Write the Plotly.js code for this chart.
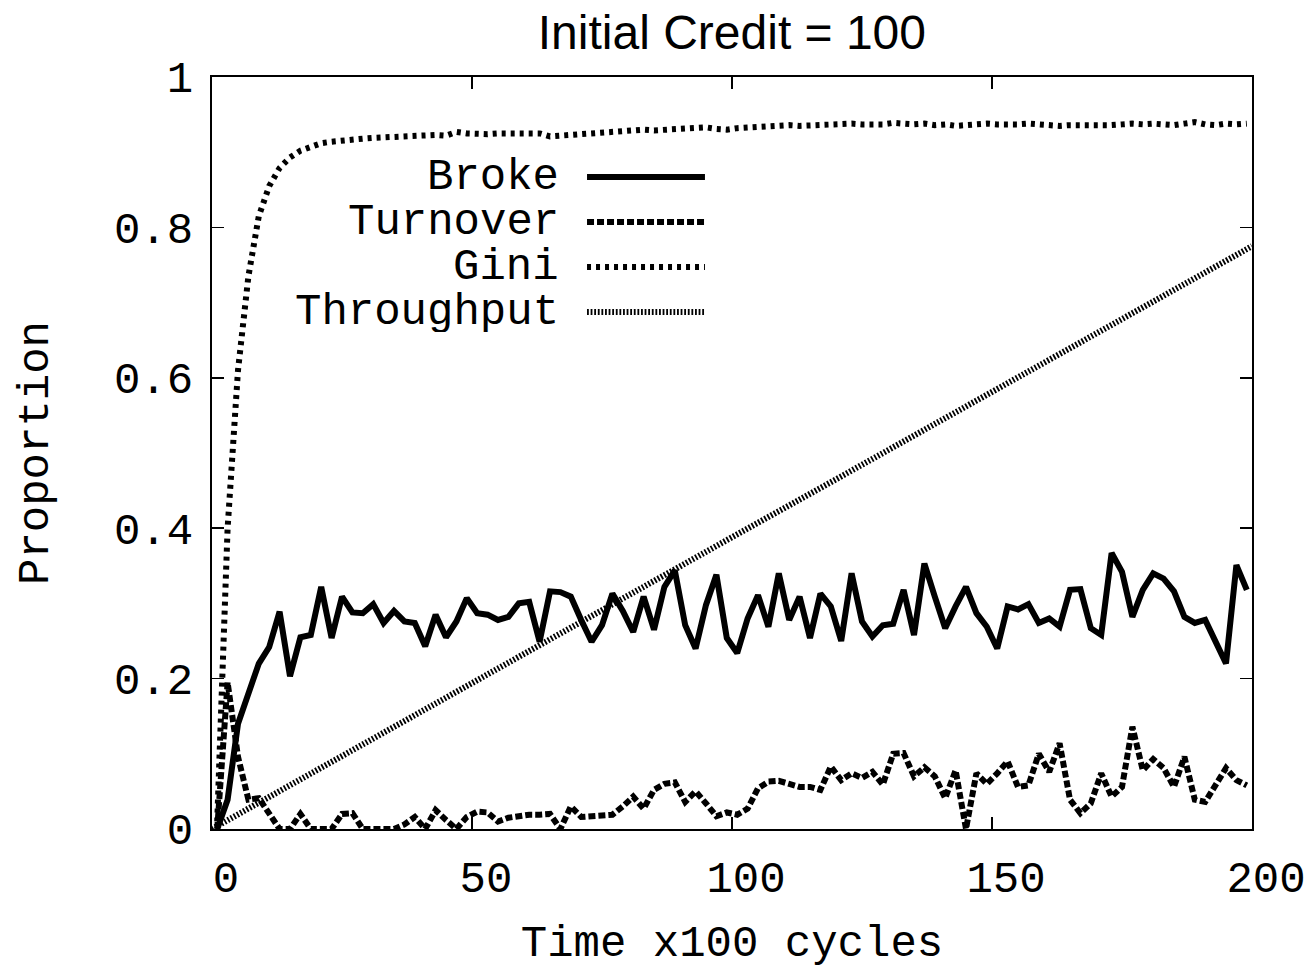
<!DOCTYPE html>
<html>
<head>
<meta charset="utf-8">
<script src="https://cdn.plot.ly/plotly-3.0.1.min.js"></script>
<style>
  html, body { margin: 0; padding: 0; background: #fff; }
  #chart { width: 1310px; height: 969px; }
</style>
</head>
<body>
<div id="chart"></div>
<script>
// Time (x100 cycles) of each sample
const time = [1,3,5,7,9,11,13,15,17,19,21,23,25,27,29,31,33,35,37,39,
  41,43,45,47,49,51,53,55,57,59,61,63,65,67,69,71,73,75,77,79,
  81,83,85,87,89,91,93,95,97,99,101,103,105,107,109,111,113,115,117,119,
  121,123,125,127,129,131,133,135,137,139,141,143,145,147,149,151,153,155,157,159,
  161,163,165,167,169,171,173,175,177,179,181,183,185,187,189,191,193,195,197,199];

const broke = [0.0,0.039,0.14,0.18,0.22,0.242,0.289,0.203,0.255,0.258,
  0.322,0.254,0.309,0.288,0.287,0.299,0.274,0.29,0.276,0.274,
  0.243,0.285,0.255,0.276,0.307,0.287,0.285,0.278,0.282,0.30,
  0.302,0.249,0.316,0.315,0.309,0.278,0.249,0.271,0.313,0.29,
  0.262,0.309,0.265,0.322,0.344,0.271,0.24,0.298,0.338,0.254,
  0.234,0.28,0.311,0.269,0.34,0.278,0.309,0.254,0.313,0.296,
  0.25,0.34,0.276,0.256,0.271,0.273,0.318,0.258,0.353,0.309,
  0.267,0.296,0.322,0.287,0.269,0.24,0.296,0.292,0.299,0.274,
  0.28,0.269,0.318,0.319,0.267,0.258,0.367,0.342,0.282,0.318,
  0.34,0.333,0.316,0.282,0.274,0.278,0.247,0.22,0.351,0.318];

const turnover = [0.0,0.195,0.096,0.039,0.041,0.02,0.0,0.0,0.02,0.0,
  0.0,0.0,0.02,0.021,0.0,0.0,0.0,0.0,0.006,0.016,
  0.0,0.025,0.012,0.0,0.016,0.023,0.022,0.01,0.015,0.018,
  0.019,0.019,0.02,0.0,0.03,0.016,0.017,0.017,0.019,0.03,
  0.043,0.027,0.052,0.06,0.062,0.036,0.05,0.034,0.017,0.022,
  0.019,0.027,0.054,0.063,0.064,0.06,0.056,0.056,0.052,0.083,
  0.065,0.074,0.068,0.076,0.059,0.1,0.101,0.07,0.082,0.07,
  0.041,0.078,0.0,0.074,0.06,0.074,0.09,0.056,0.058,0.1,
  0.076,0.114,0.039,0.021,0.034,0.074,0.043,0.056,0.136,0.078,
  0.093,0.081,0.056,0.096,0.039,0.036,0.058,0.081,0.065,0.058];

const gini = [0.01,0.40,0.61,0.735,0.815,0.855,0.879,0.893,0.902,0.908,
  0.912,0.914,0.916,0.917,0.918,0.919,0.920,0.920,0.921,0.921,
  0.922,0.923,0.922,0.927,0.925,0.924,0.924,0.925,0.925,0.926,
  0.926,0.925,0.921,0.922,0.923,0.925,0.926,0.927,0.927,0.929,
  0.929,0.930,0.929,0.930,0.931,0.930,0.932,0.933,0.931,0.930,
  0.932,0.933,0.934,0.935,0.936,0.936,0.935,0.936,0.936,0.937,
  0.937,0.938,0.937,0.936,0.937,0.939,0.938,0.937,0.938,0.936,
  0.937,0.935,0.936,0.937,0.938,0.937,0.936,0.937,0.938,0.937,
  0.937,0.935,0.936,0.936,0.934,0.935,0.936,0.937,0.938,0.937,
  0.938,0.937,0.936,0.938,0.940,0.937,0.936,0.938,0.937,0.938];

const throughputTime = [0,20,40,60,80,100,120,140,160,180,200];
const throughput = [0,0.078,0.155,0.233,0.31,0.388,0.465,0.543,0.62,0.698,0.775];

const seriesNames = ["Broke","Turnover","Gini","Throughput"];
const yTickVals = [0,0.2,0.4,0.6,0.8,1];
const yTickText = ["0","0.2","0.4","0.6","0.8","1"];
const xTickVals = [0,50,100,150,200];
const xTickText = ["0","50","100","150","200"];

const dashes = ["solid","7px,3px","4px,5px","1.8px,1.8px"];
const widths = [6,6,6,6];

const traces = [
  {x: time, y: broke, name: seriesNames[0]},
  {x: time, y: turnover, name: seriesNames[1]},
  {x: time, y: gini, name: seriesNames[2]},
  {x: throughputTime, y: throughput, name: seriesNames[3]}
].map((t, i) => Object.assign(t, {
  type: "scatter", mode: "lines", showlegend: false, cliponaxis: true,
  line: {color: "#000", width: widths[i], dash: dashes[i]}
}));

const mono = "'Liberation Mono', 'Courier New', monospace";

// Gnuplot-style key: text right-aligned, line sample to its right
const keyRows = [0.867, 0.8072, 0.7473, 0.6875];
const annotations = seriesNames.map((n, i) => ({
  xref: "paper", yref: "paper", x: 0.335, y: keyRows[i],
  xanchor: "right", yanchor: "middle", text: n, showarrow: false,
  height: 40, valign: "middle", borderpad: 0,
  font: {family: mono, size: 44, color: "#000"}
}));
const shapes = seriesNames.map((n, i) => ({
  type: "line", xref: "paper", yref: "paper",
  x0: 0.3606, x1: 0.474, y0: keyRows[i], y1: keyRows[i],
  line: {color: "#000", width: widths[i], dash: dashes[i]}
}));

const layout = {
  width: 1310, height: 969,
  margin: {l: 212, r: 58, t: 77, b: 140},
  paper_bgcolor: "#fff", plot_bgcolor: "#fff",
  title: {text: "Initial Credit = 100", x: 0.5587, xanchor: "center", y: 0.967, yanchor: "middle",
          font: {family: "'Liberation Sans', Arial, sans-serif", size: 48, color: "#000"}},
  xaxis: {
    range: [0, 200], tickvals: xTickVals, ticktext: xTickText,
    ticks: "inside", ticklen: 12, tickwidth: 1.5, tickcolor: "#000",
    showline: true, linecolor: "#000", linewidth: 2, mirror: "ticks",
    showgrid: false, zeroline: false,
    ticklabelshift: 14, ticklabelstandoff: 8,
    tickfont: {family: mono, size: 44, color: "#000"},
    title: {text: "Time x100 cycles", standoff: 30, font: {family: mono, size: 44, color: "#000"}}
  },
  yaxis: {
    range: [0, 1], tickvals: yTickVals, ticktext: yTickText,
    ticks: "inside", ticklen: 12, tickwidth: 1.5, tickcolor: "#000",
    showline: true, linecolor: "#000", linewidth: 2, mirror: "ticks",
    showgrid: false, zeroline: false,
    ticklabelstandoff: 8,
    tickfont: {family: mono, size: 44, color: "#000"},
    title: {text: "Proportion", standoff: 52, font: {family: mono, size: 44, color: "#000"}}
  },
  annotations: annotations,
  shapes: shapes
};

Plotly.newPlot("chart", traces, layout, {displayModeBar: false, staticPlot: true});
</script>
</body>
</html>
